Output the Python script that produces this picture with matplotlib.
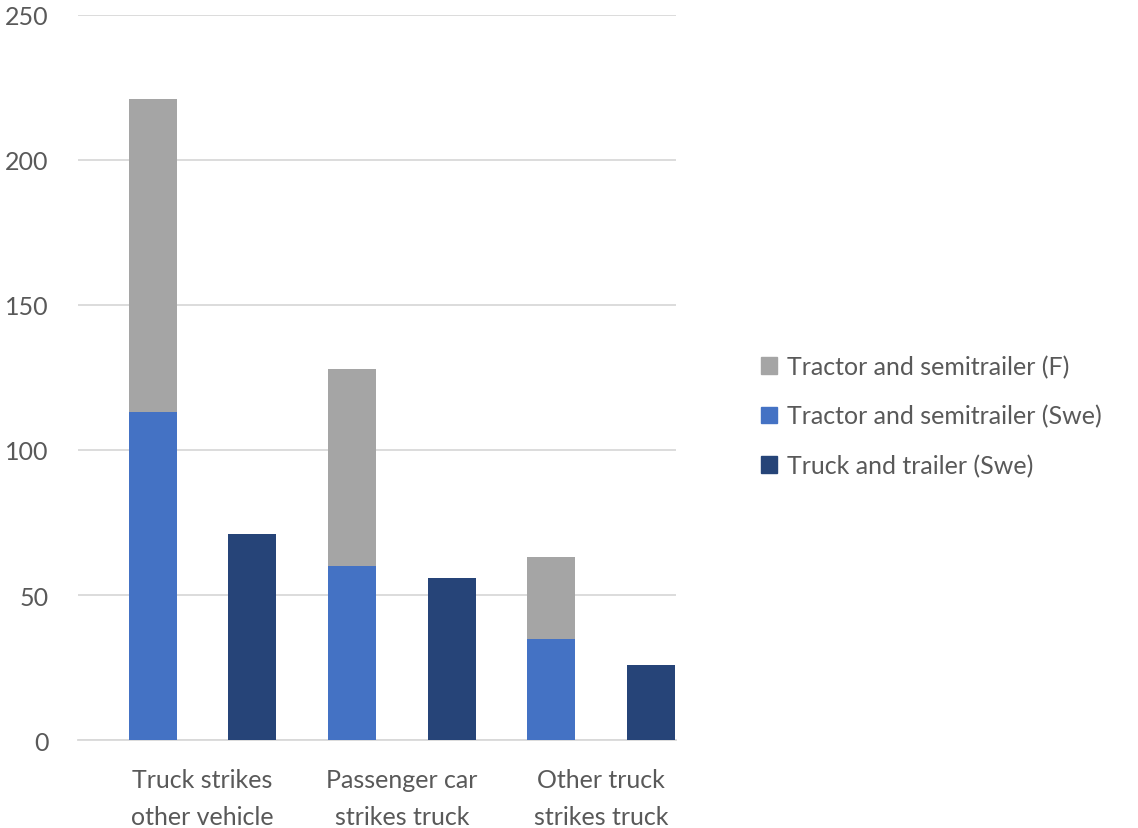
import numpy as np
import matplotlib.pyplot as plt
from matplotlib.patches import Patch

# ---------------------- DATA ------------------------------
categories = ["Truck strikes\nother vehicle", "Passenger car\nstrikes truck", "Other truck\nstrikes truck"]
semi_swe = [113, 60, 35]        # Tractor and semitrailer (Swe)
semi_f_extra = [108, 68, 28]    # Tractor and semitrailer (F), stacked on Swe
truck_trailer = [71, 56, 26]    # Truck and trailer (Swe)
y_ticks = [0, 50, 100, 150, 200, 250]

COL_GREY = "#a5a5a5"
COL_BLUE = "#4472c4"
COL_DARK = "#264478"
TEXT_COL = "#595959"
FS = 18

plt.rcParams["font.family"] = ["Lato", "DejaVu Sans"]

fig = plt.figure(figsize=(11.38, 8.29), dpi=100)
ax = fig.add_axes([0.0685, 0.106, 0.5255, 0.875])

n = len(categories)
x_stack = np.arange(n) * 2
x_dark = x_stack + 1
w = 0.48

ax.bar(x_stack, semi_swe, width=w, color=COL_BLUE, zorder=3)
ax.bar(x_stack, semi_f_extra, bottom=semi_swe, width=w, color=COL_GREY, zorder=3)
ax.bar(x_dark, truck_trailer, width=w, color=COL_DARK, zorder=3)

ax.set_xlim(-0.75, 2 * n - 0.75)
ax.set_ylim(0, 250)
ax.set_yticks(y_ticks)
ax.yaxis.grid(True, color="#d9d9d9", linewidth=1.3, zorder=0)
ax.set_xticks(x_stack + 0.5)
ax.set_xticklabels(categories, linespacing=1.75)
ax.tick_params(axis="both", length=0, labelsize=FS, colors=TEXT_COL)
ax.tick_params(axis="x", pad=20)
ax.tick_params(axis="y", pad=21)

for s in ["top", "right", "left"]:
    ax.spines[s].set_visible(False)
ax.spines["bottom"].set_color("#d9d9d9")
ax.spines["bottom"].set_linewidth(1.3)

handles = [
    Patch(color=COL_GREY, label="Tractor and semitrailer (F)"),
    Patch(color=COL_BLUE, label="Tractor and semitrailer (Swe)"),
    Patch(color=COL_DARK, label="Truck and trailer (Swe)"),
]
fig.legend(handles=handles, loc="center left", bbox_to_anchor=(0.649, 0.497),
           frameon=False, fontsize=FS, labelcolor=TEXT_COL,
           handlelength=0.65, handleheight=0.65, handletextpad=0.4, labelspacing=1.05)

fig.savefig("out.png", dpi=100)
